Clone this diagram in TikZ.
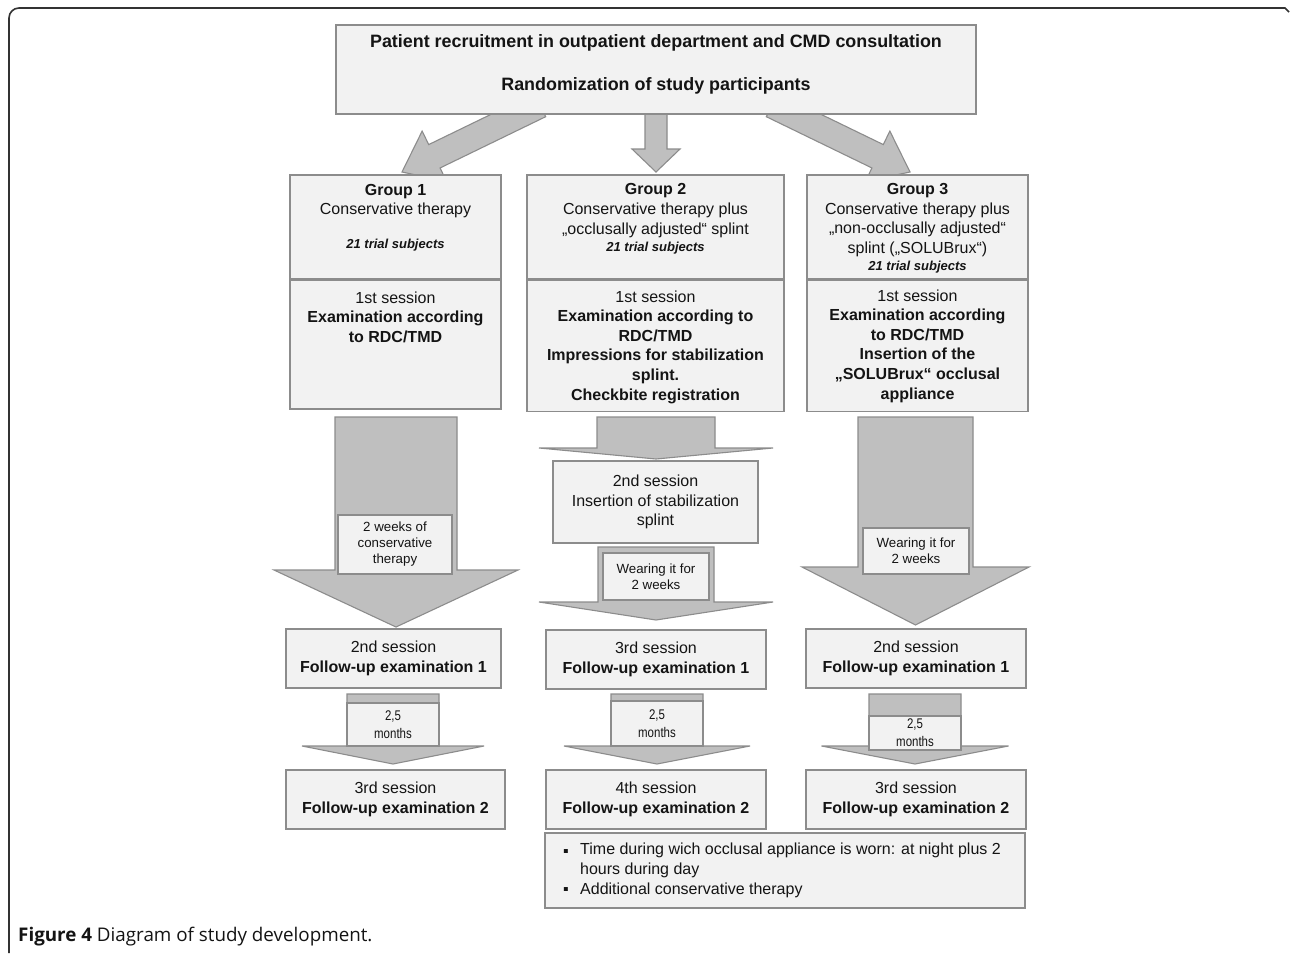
\documentclass[tikz,border=0pt]{standalone}
\usepackage{fontspec}
\setmainfont{Liberation Sans}
\newfontfamily\capfont{Open Sans}
\newfontfamily\narrowfont[FakeStretch=0.82]{Liberation Sans}
\usetikzlibrary{calc}
\definecolor{boxfill}{HTML}{F2F2F2}
\definecolor{boxline}{HTML}{8C8C8C}
\definecolor{arrfill}{HTML}{BFBFBF}
\definecolor{arrline}{HTML}{8C8C8C}
\definecolor{ink}{HTML}{141414}
\definecolor{framecol}{HTML}{333333}
% vertical block arrow: cx, top, shaft half width, head base y, head half width, tip y
\newcommand\vblock[6]{%
  \draw[barrow] ({#1-#3},#2) -- ({#1+#3},#2) -- ({#1+#3},#4) -- ({#1+#5},#4)
    -- (#1,#6) -- ({#1-#5},#4) -- ({#1-#3},#4) -- cycle;}
% diagonal block arrow: start, tip, shaft half width, head half width, head length
\newcommand\dblock[5]{%
  \coordinate (db-b) at ($(#2)!#5!(#1)$);
  \draw[barrow] ($(#1)!#3!90:(#2)$) -- ($(db-b)!#3!90:(#2)$) -- ($(db-b)!#4!90:(#2)$)
    -- (#2) -- ($(db-b)!#4!-90:(#2)$) -- ($(db-b)!#3!-90:(#2)$) -- ($(#1)!#3!-90:(#2)$) -- cycle;}
\begin{document}
\begin{tikzpicture}[x=1pt,y=-1pt,
  box/.style={draw=boxline, fill=boxfill, line width=1.3pt, inner sep=0pt, text=ink, align=center},
  barrow/.style={draw=arrline, fill=arrfill, line width=1.1pt, line join=miter},
  txt/.style={font=\fontsize{16}{19.6}\selectfont, text=ink, align=center, inner sep=0pt},
  sub/.style={font=\fontsize{13}{15}\selectfont\bfseries\itshape, text=ink, inner sep=0pt},
  lab/.style={box, font=\fontsize{13.3}{16}\selectfont},
  mlab/.style={box, font=\narrowfont\fontsize{14}{18}\selectfont},
  sess/.style={box, font=\fontsize{16}{19.6}\selectfont, minimum height=59pt},
  frame/.style={draw=framecol, line width=1.6pt}]
\useasboundingbox (0,0) rectangle (1290,953);
\fill[white] (0,0) rectangle (1290,953);
% frame
\draw[frame] (9,953) [rounded corners=10pt] -- (9,8) [sharp corners] -- (1285,8) -- (1289,12);

% arrows from the top box
\coordinate (s1) at (540,105); \coordinate (t1) at (402,172);
\coordinate (s2) at (656,105); \coordinate (t2) at (656,172);
\coordinate (s3) at (772,105); \coordinate (t3) at (910,172);
\dblock{s1}{t1}{13pt}{28pt}{36pt}
\dblock{s2}{t2}{11pt}{24pt}{23pt}
\dblock{s3}{t3}{13pt}{28pt}{36pt}

% top box
\node[box, minimum width=640pt, minimum height=89pt] (top) at (656,69.5) {};
\node[txt, font=\fontsize{17.9}{20}\selectfont\bfseries] (top1) at (656,43) {Patient recruitment in outpatient department and CMD consultation};
\node[txt, font=\fontsize{17.9}{20}\selectfont\bfseries] (top2) at (656,86) {Randomization of study participants};

% group boxes
\node[box, minimum width=211pt, minimum height=104pt] (g1a) at (395.5,227) {};
\node[box, minimum width=211pt, minimum height=129pt] (g1b) at (395.5,344.5) {};
\node[box, minimum width=257pt, minimum height=104pt] (g2a) at (655.5,227) {};
\node[box, minimum width=257pt, minimum height=131pt] (g2b) at (655.5,346) {};
\node[box, minimum width=221pt, minimum height=104pt] (g3a) at (917.5,227) {};
\node[box, minimum width=221pt, minimum height=131pt] (g3b) at (917.5,346) {};

\node[txt] (g1t) at (395.5,201) {\textbf{Group 1}\\Conservative therapy};
\node[sub] (g1s) at (395.5,245) {21 trial subjects};
\node[txt] (g1u) at (395.5,317) {1st session\\\textbf{Examination according}\\\textbf{to RDC/TMD}};

\node[txt] (g2t) at (655.5,210.5) {\textbf{Group 2}\\Conservative therapy plus\\„occlusally adjusted“ splint};
\node[sub] (g2s) at (655.5,248) {21 trial subjects};
\node[txt] (g2u) at (655.5,347) {1st session\\\textbf{Examination according to}\\\textbf{RDC/TMD}\\\textbf{Impressions for stabilization}\\\textbf{splint.}\\\textbf{Checkbite registration}};

\node[txt] (g3t) at (917.5,220) {\textbf{Group 3}\\Conservative therapy plus\\„non-occlusally adjusted“\\splint („SOLUBrux“)};
\node[sub] (g3s) at (917.5,267) {21 trial subjects};
\node[txt] (g3u) at (917.5,346) {1st session\\\textbf{Examination according}\\\textbf{to RDC/TMD}\\\textbf{Insertion of the}\\\textbf{„SOLUBrux“ occlusal}\\\textbf{appliance}};

% big arrows
\vblock{396}{417}{61}{570}{122}{627}
\node[lab, minimum width=114pt, minimum height=59pt] (l1) at (395,544.5) {2 weeks of\\conservative\\therapy};

\vblock{656}{417}{59}{448}{117}{459}
\node[sess, minimum width=205pt, minimum height=82pt] (g2m) at (655.5,502) {2nd session\\Insertion of stabilization\\splint};
\vblock{656}{547}{58}{602}{117}{620}
\node[lab, minimum width=106pt, minimum height=47pt] (l2) at (656,576.5) {Wearing it for\\2 weeks};

\vblock{915.5}{417}{57.5}{567}{113.5}{625}
\node[lab, minimum width=106pt, minimum height=46pt] (l3) at (916,551) {Wearing it for\\2 weeks};

% follow-up 1
\node[sess, minimum width=215pt] (f11) at (393.5,658.5) {2nd session\\\textbf{Follow-up examination 1}};
\node[sess, minimum width=220pt] (f21) at (656,659.5) {3rd session\\\textbf{Follow-up examination 1}};
\node[sess, minimum width=220pt] (f31) at (916,658.5) {2nd session\\\textbf{Follow-up examination 1}};

% 2,5 months arrows
\vblock{393}{694}{46}{746}{91}{764}
\node[mlab, minimum width=92pt, minimum height=43pt] (m1) at (393,724.5) {2,5\\months};
\vblock{657}{694}{46}{746}{93}{764}
\node[mlab, minimum width=92pt, minimum height=45pt] (m2) at (657,723.5) {2,5\\months};
\vblock{915}{694}{46}{746}{93.5}{764}
\node[mlab, minimum width=92pt, minimum height=34pt] (m3) at (915,733) {2,5\\months};

% follow-up 2
\node[sess, minimum width=219pt] (f12) at (395.5,799.5) {3rd session\\\textbf{Follow-up examination 2}};
\node[sess, minimum width=220pt] (f22) at (656,799.5) {4th session\\\textbf{Follow-up examination 2}};
\node[sess, minimum width=220pt] (f32) at (916,799.5) {3rd session\\\textbf{Follow-up examination 2}};

% note box
\node[box, minimum width=480pt, minimum height=75pt] (note) at (785,870.5) {};
\node[txt, anchor=center] (b1) at (566,853) {▪};
\node[txt, anchor=center] (b2) at (566,891) {▪};
\node[txt, anchor=north west, align=left] (n1) at (580,843) {Time during wich occlusal appliance is worn: at night plus 2\\hours during day\\Additional conservative therapy};

% caption
\node[anchor=base west, inner sep=0pt, text=ink, font=\capfont\fontsize{18.8}{22}\selectfont] (cap) at (18,941) {\textbf{Figure 4} Diagram of study development.};
\end{tikzpicture}
\end{document}
